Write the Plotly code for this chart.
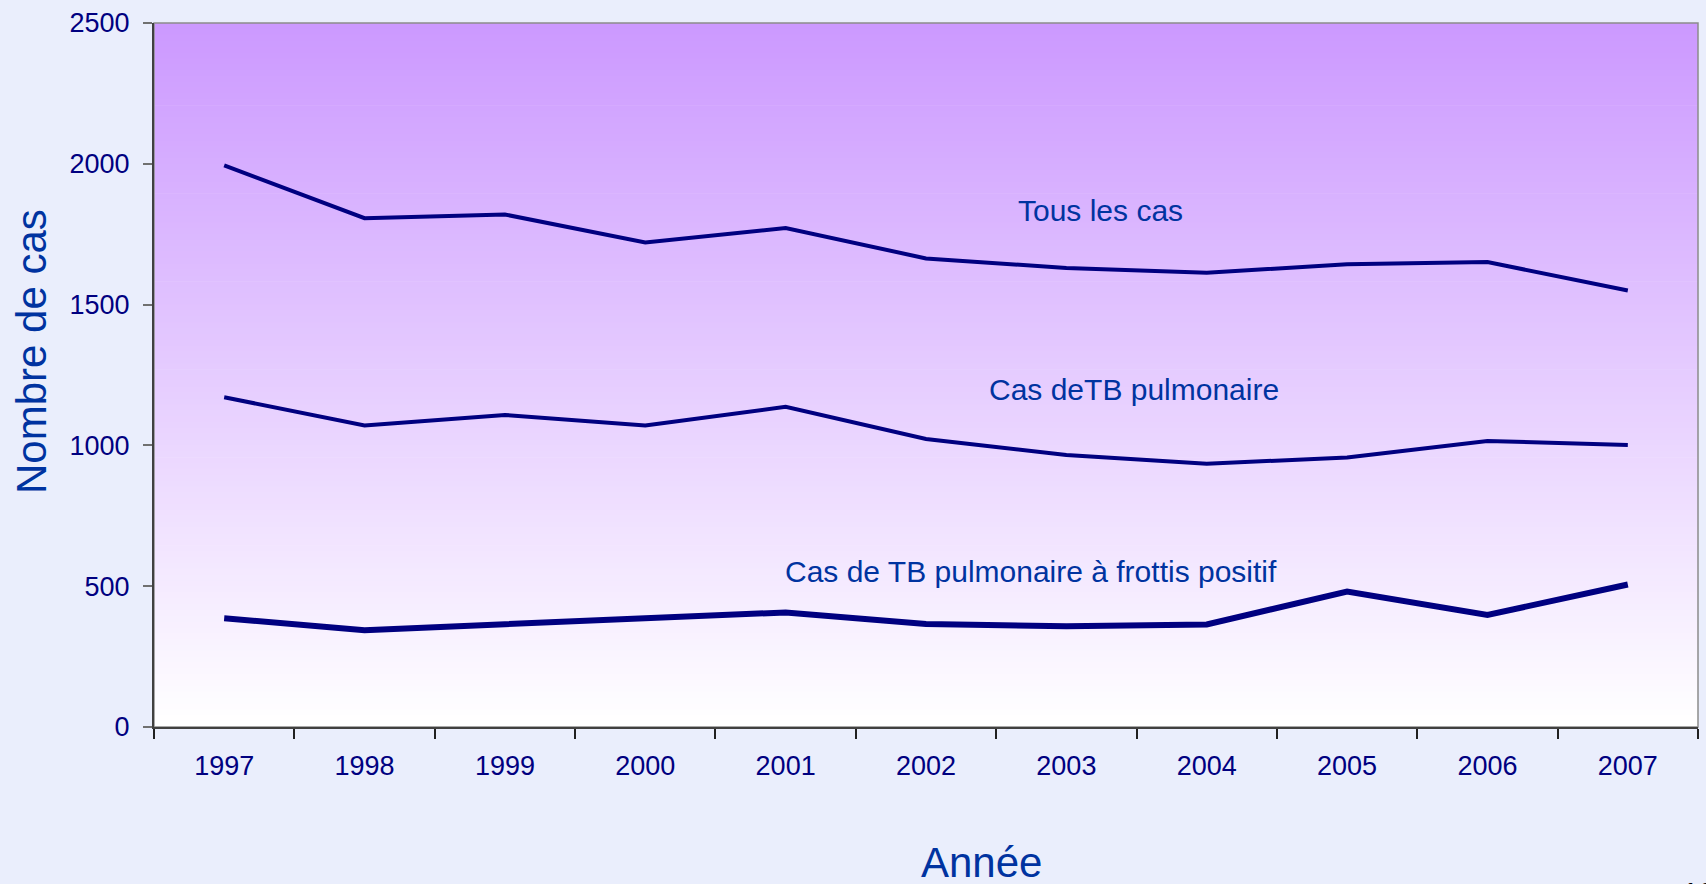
"""
Évolution des cas de tuberculose 1997-2007
"""

import plotly.graph_objects as go

annees = ['1997', '1998', '1999', '2000', '2001', '2002', '2003', '2004', '2005', '2006', '2007']
tous_les_cas = [1994, 1807, 1820, 1721, 1772, 1664, 1630, 1613, 1643, 1651, 1550]
cas_pulmonaire = [1171, 1071, 1108, 1071, 1137, 1023, 966, 935, 957, 1016, 1001]
cas_frottis_positif = [386, 344, 365, 384, 407, 366, 358, 364, 481, 398, 506]
y_ticks = [0, 500, 1000, 1500, 2000, 2500]

FONT = 'Liberation Sans, Arial, sans-serif'
NAVY = '#000080'
BLEU = '#0033A0'
FOND = '#EAEEFC'

fig = go.Figure()

fig.add_trace(go.Scatter(x=annees, y=tous_les_cas, mode='lines',
                         line=dict(color=NAVY, width=4), name='Tous les cas'))
fig.add_trace(go.Scatter(x=annees, y=cas_pulmonaire, mode='lines',
                         line=dict(color=NAVY, width=4), name='Cas deTB pulmonaire'))
fig.add_trace(go.Scatter(x=annees, y=cas_frottis_positif, mode='lines',
                         line=dict(color=NAVY, width=6),
                         name='Cas de TB pulmonaire à frottis positif'))

# dégradé du fond de la zone de tracé (violet en haut -> blanc en bas)
n = 120
shapes = []
for i in range(n):
    t = i / (n - 1)
    r = int(round(204 + (255 - 204) * t))
    g = int(round(153 + (255 - 153) * t))
    shapes.append(dict(type='rect', xref='paper', yref='paper',
                       x0=0, x1=1, y0=1 - (i + 1) / n - 0.001, y1=1 - i / n,
                       fillcolor=f'rgb({r},{g},255)', line=dict(width=0),
                       layer='below'))
shapes.append(dict(type='rect', xref='paper', yref='paper', x0=0, x1=1, y0=0, y1=1,
                   line=dict(color='#8c8c8c', width=1.5), layer='below'))


def px_x(p):
    return (p - 154) / 1544


def px_y(p):
    return (727 - p) / 704


annotations = [
    dict(text='Tous les cas', x=px_x(1100), y=px_y(210)),
    dict(text='Cas deTB pulmonaire', x=px_x(1134), y=px_y(389)),
    dict(text='Cas de TB pulmonaire à frottis positif', x=px_x(1031), y=px_y(571)),
]
for a in annotations:
    a.update(font=dict(family=FONT, size=30, color=BLEU))

annotations.append(dict(text='Nombre de cas', x=px_x(31), y=px_y(351), textangle=-90,
                        font=dict(family=FONT, size=42, color=BLEU)))
annotations.append(dict(text='Année', x=px_x(981), y=px_y(862),
                        font=dict(family=FONT, size=42, color=BLEU)))
for a in annotations:
    a.update(xref='paper', yref='paper', showarrow=False,
             xanchor='center', yanchor='middle')
annotations.append(dict(text='13', xref='paper', yref='paper', xanchor='left', yanchor='top',
                        x=px_x(1680), y=px_y(874), showarrow=False,
                        font=dict(family=FONT, size=30, color='black')))

fig.update_layout(
    width=1706, height=884,
    margin=dict(l=154, r=8, t=23, b=157),
    paper_bgcolor=FOND,
    plot_bgcolor='white',
    showlegend=False,
    shapes=shapes,
    annotations=annotations,
    font=dict(family=FONT, color=NAVY),
)

fig.update_xaxes(
    type='category', range=[-0.5, 10.5], tickson='boundaries',
    ticks='outside', ticklen=10, tickwidth=1.5, tickcolor='#202020',
    showline=True, linecolor='#404040', linewidth=2,
    showgrid=False, zeroline=False,
    tickfont=dict(family=FONT, size=27, color=NAVY), ticklabelstandoff=14,
)
fig.update_yaxes(
    range=[0, 2500], tickvals=y_ticks,
    ticks='outside', ticklen=9, tickwidth=1.5, tickcolor='#707070',
    showline=True, linecolor='#404040', linewidth=2,
    showgrid=False, zeroline=False,
    tickfont=dict(family=FONT, size=27, color=NAVY), ticklabelstandoff=8,
)

fig.write_html("out.html", config={'displayModeBar': False},
               post_script="document.body.style.margin='0';"
                           "document.body.style.background='" + FOND + "';")
